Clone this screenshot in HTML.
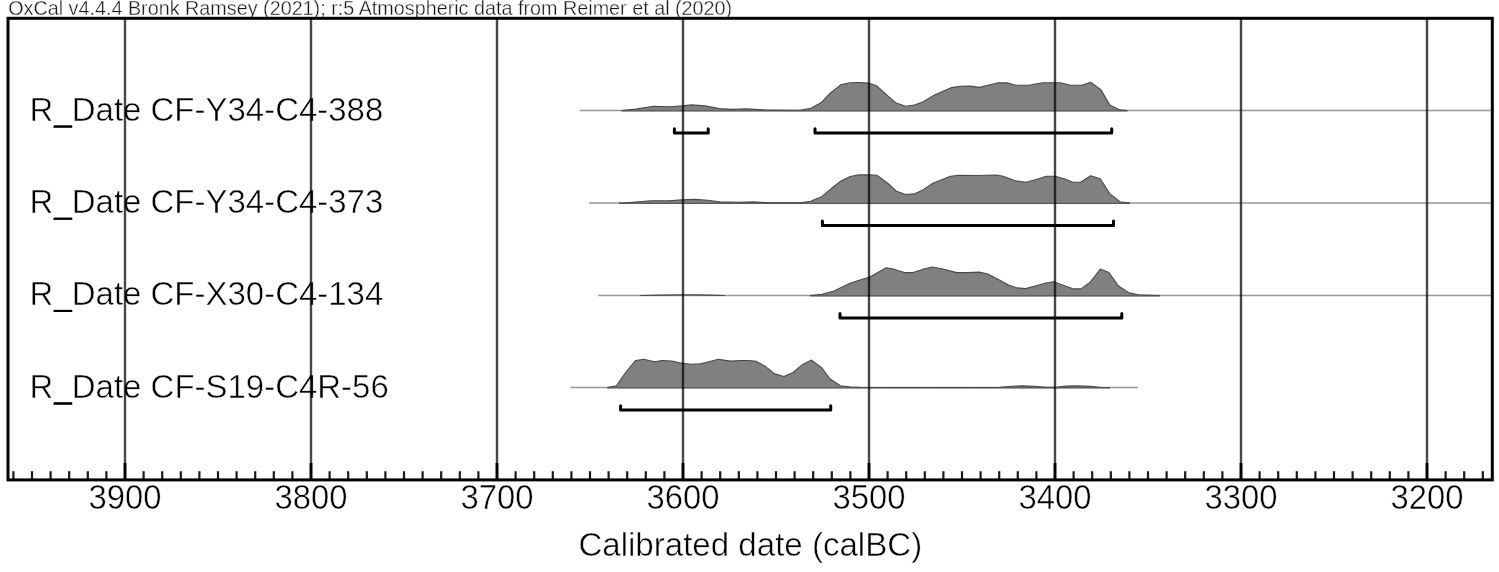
<!DOCTYPE html>
<html><head><meta charset="utf-8"><style>
html,body{margin:0;padding:0;background:#fff;}
body{width:1499px;height:572px;overflow:hidden;}
svg{display:block;will-change:transform;}
text{font-family:"Liberation Sans",sans-serif;fill:#000;stroke:#fff;stroke-width:0.5px;paint-order:normal;}
</style></head><body>
<svg width="1499" height="572" viewBox="0 0 1499 572">
<rect width="1499" height="572" fill="#fff"/>
<text x="8.2" y="15.2" font-size="20.3" style="stroke-width:0.35px;fill:#1a1a1a" textLength="724" lengthAdjust="spacingAndGlyphs">OxCal v4.4.4 Bronk Ramsey (2021); r:5 Atmospheric data from Reimer et al (2020)</text>
<text x="29.6" y="120.7" font-size="32.6" textLength="353.7" lengthAdjust="spacingAndGlyphs">R_Date CF-Y34-C4-388</text>
<rect x="54" y="125.3" width="18.2" height="2.1" fill="#000"/>
<text x="29.6" y="213" font-size="32.6" textLength="353.7" lengthAdjust="spacingAndGlyphs">R_Date CF-Y34-C4-373</text>
<rect x="54" y="217.6" width="18.2" height="2.1" fill="#000"/>
<text x="29.6" y="305.3" font-size="32.6" textLength="353.7" lengthAdjust="spacingAndGlyphs">R_Date CF-X30-C4-134</text>
<rect x="54" y="309.9" width="18.2" height="2.1" fill="#000"/>
<text x="29.6" y="397.6" font-size="32.6" textLength="359.2" lengthAdjust="spacingAndGlyphs">R_Date CF-S19-C4R-56</text>
<rect x="54" y="402.2" width="18.2" height="2.1" fill="#000"/>
<line x1="580" y1="110.5" x2="1493" y2="110.5" stroke="#999" stroke-width="1.4"/>
<path d="M621.6,110.5 L636,109.1 L653.6,106.2 L669.7,106.7 L682.5,105.9 L692,104.9 L704.9,105.9 L719.3,108.6 L732.1,109.4 L746.5,108.9 L764.1,109.9 L788.1,110.4 L800,110.2 L810.7,108.4 L821.3,102.6 L829.9,93.5 L840.6,84.9 L850.2,82.8 L858.7,82.6 L868.3,83 L876.8,85.8 L887.5,95.6 L896.1,103.1 L905.7,106.3 L914.2,105 L922.7,102 L933.4,95.6 L951.6,87.6 L960.1,86.2 L970.3,86.1 L979.2,87.4 L988,85.2 L998.2,82.7 L1007,82.9 L1015.9,85.2 L1028.6,85.2 L1042.5,82.7 L1053.9,82.7 L1060.3,82.7 L1070.4,85.2 L1081.8,85.2 L1090.7,82.3 L1100.8,89.6 L1109.7,104.9 L1119.9,109.9 L1127.5,110.5 L1127.5,111.0 L621.6,111.0 Z" fill="#808080" stroke="none"/>
<line x1="621.6" y1="110.8" x2="1127.5" y2="110.8" stroke="#585858" stroke-width="1.2"/>
<path d="M621.6,110.5 L636,109.1 L653.6,106.2 L669.7,106.7 L682.5,105.9 L692,104.9 L704.9,105.9 L719.3,108.6 L732.1,109.4 L746.5,108.9 L764.1,109.9 L788.1,110.4 L800,110.2 L810.7,108.4 L821.3,102.6 L829.9,93.5 L840.6,84.9 L850.2,82.8 L858.7,82.6 L868.3,83 L876.8,85.8 L887.5,95.6 L896.1,103.1 L905.7,106.3 L914.2,105 L922.7,102 L933.4,95.6 L951.6,87.6 L960.1,86.2 L970.3,86.1 L979.2,87.4 L988,85.2 L998.2,82.7 L1007,82.9 L1015.9,85.2 L1028.6,85.2 L1042.5,82.7 L1053.9,82.7 L1060.3,82.7 L1070.4,85.2 L1081.8,85.2 L1090.7,82.3 L1100.8,89.6 L1109.7,104.9 L1119.9,109.9 L1127.5,110.5" fill="none" stroke="#4a4a4a" stroke-width="1.1" stroke-linejoin="round"/>
<line x1="589" y1="203" x2="1493" y2="203" stroke="#999" stroke-width="1.4"/>
<path d="M619,203 L623,203 L650.6,200.7 L669,200.7 L681.3,199.9 L695.1,199.4 L707.4,200.2 L719.7,201.9 L738.1,202.2 L753.4,201.9 L768.8,202.7 L799.5,202.7 L810.7,201.3 L816,199 L821.3,196.9 L831,188.8 L840.6,181.3 L850.2,176.5 L858.7,174.9 L868.3,174.7 L876.8,175.3 L887.5,183 L896.1,191 L905.7,194.5 L914.2,193.9 L922.7,189.9 L933.4,183 L950.5,176.3 L958.9,175.2 L975.4,175.5 L996.9,175 L1003.2,176.2 L1015.9,180.9 L1026.1,182.2 L1038.7,178.8 L1046.3,176.2 L1055.2,176.2 L1064.1,178.8 L1073,182.2 L1080.6,182.2 L1090.7,175.8 L1100.2,178.8 L1109.7,193.6 L1119.9,201.8 L1130,203 L1130,203.5 L619,203.5 Z" fill="#808080" stroke="none"/>
<line x1="619" y1="203.3" x2="1130" y2="203.3" stroke="#585858" stroke-width="1.2"/>
<path d="M619,203 L623,203 L650.6,200.7 L669,200.7 L681.3,199.9 L695.1,199.4 L707.4,200.2 L719.7,201.9 L738.1,202.2 L753.4,201.9 L768.8,202.7 L799.5,202.7 L810.7,201.3 L816,199 L821.3,196.9 L831,188.8 L840.6,181.3 L850.2,176.5 L858.7,174.9 L868.3,174.7 L876.8,175.3 L887.5,183 L896.1,191 L905.7,194.5 L914.2,193.9 L922.7,189.9 L933.4,183 L950.5,176.3 L958.9,175.2 L975.4,175.5 L996.9,175 L1003.2,176.2 L1015.9,180.9 L1026.1,182.2 L1038.7,178.8 L1046.3,176.2 L1055.2,176.2 L1064.1,178.8 L1073,182.2 L1080.6,182.2 L1090.7,175.8 L1100.2,178.8 L1109.7,193.6 L1119.9,201.8 L1130,203" fill="none" stroke="#4a4a4a" stroke-width="1.1" stroke-linejoin="round"/>
<line x1="598" y1="295.5" x2="1493" y2="295.5" stroke="#999" stroke-width="1.4"/>
<path d="M640,295.5 L660,295.1 L685,294.8 L700,294.9 L718,295.4 L725,295.5 L725,296.0 L640,296.0 Z" fill="#808080"/>
<path d="M640,295.5 L660,295.1 L685,294.8 L700,294.9 L718,295.4 L725,295.5" fill="none" stroke="#4a4a4a" stroke-width="1.1" stroke-linejoin="round"/>
<path d="M810,295.5 L822,294.4 L834,291 L850,283.3 L860.7,279.8 L869.2,277.4 L877.8,272.6 L886.3,267.8 L894.8,269.4 L904.4,272.6 L913,272.6 L922.6,269.4 L932.2,267 L941.8,268.7 L956.7,272.6 L967.4,272.6 L979.1,272.1 L987.7,274 L999.4,280.1 L1008.5,284.9 L1017.1,287.9 L1025.6,288.6 L1035.2,286 L1045.9,283 L1053.4,281.7 L1064,285.4 L1073.6,288.9 L1081.1,288.9 L1090.7,281.7 L1100.3,269.1 L1108.9,272.6 L1118.5,286 L1129.1,292.9 L1138.8,294.7 L1160,295.5 L1160,296.0 L810,296.0 Z" fill="#808080" stroke="none"/>
<line x1="810" y1="295.8" x2="1160" y2="295.8" stroke="#585858" stroke-width="1.2"/>
<path d="M810,295.5 L822,294.4 L834,291 L850,283.3 L860.7,279.8 L869.2,277.4 L877.8,272.6 L886.3,267.8 L894.8,269.4 L904.4,272.6 L913,272.6 L922.6,269.4 L932.2,267 L941.8,268.7 L956.7,272.6 L967.4,272.6 L979.1,272.1 L987.7,274 L999.4,280.1 L1008.5,284.9 L1017.1,287.9 L1025.6,288.6 L1035.2,286 L1045.9,283 L1053.4,281.7 L1064,285.4 L1073.6,288.9 L1081.1,288.9 L1090.7,281.7 L1100.3,269.1 L1108.9,272.6 L1118.5,286 L1129.1,292.9 L1138.8,294.7 L1160,295.5" fill="none" stroke="#4a4a4a" stroke-width="1.1" stroke-linejoin="round"/>
<line x1="570.5" y1="387.5" x2="1137.8" y2="387.5" stroke="#999" stroke-width="1.4"/>
<path d="M607.2,387.5 L616.4,385.9 L625.6,372.5 L635.4,360.5 L643.9,359.2 L654.4,361.8 L662.3,360.5 L671.5,361 L682,363.4 L691.1,364.3 L700.3,363.9 L707.9,362 L718.4,359.2 L730.2,361.1 L742,360.5 L748.5,360.5 L756.4,361.4 L765.6,366.6 L774.8,373.9 L783.9,376.5 L793.1,372.5 L802.3,364.7 L811.5,360.1 L822,368 L829.8,378.8 L840.3,385.7 L850.8,387 L860,387.3 L960,387.5 L1000,387.3 L1012,386.3 L1022,385.9 L1035,386.2 L1046,387.2 L1056,387.2 L1066,386.1 L1077,385.9 L1090,386.4 L1100,387.3 L1110,387.5 L1110,388.0 L607.2,388.0 Z" fill="#808080" stroke="none"/>
<line x1="607.2" y1="387.8" x2="1110" y2="387.8" stroke="#585858" stroke-width="1.2"/>
<path d="M607.2,387.5 L616.4,385.9 L625.6,372.5 L635.4,360.5 L643.9,359.2 L654.4,361.8 L662.3,360.5 L671.5,361 L682,363.4 L691.1,364.3 L700.3,363.9 L707.9,362 L718.4,359.2 L730.2,361.1 L742,360.5 L748.5,360.5 L756.4,361.4 L765.6,366.6 L774.8,373.9 L783.9,376.5 L793.1,372.5 L802.3,364.7 L811.5,360.1 L822,368 L829.8,378.8 L840.3,385.7 L850.8,387 L860,387.3 L960,387.5 L1000,387.3 L1012,386.3 L1022,385.9 L1035,386.2 L1046,387.2 L1056,387.2 L1066,386.1 L1077,385.9 L1090,386.4 L1100,387.3 L1110,387.5" fill="none" stroke="#4a4a4a" stroke-width="1.1" stroke-linejoin="round"/>
<line x1="125" y1="18" x2="125" y2="479" stroke="#000" stroke-opacity="0.72" stroke-width="2.4"/>
<line x1="311" y1="18" x2="311" y2="479" stroke="#000" stroke-opacity="0.72" stroke-width="2.4"/>
<line x1="497" y1="18" x2="497" y2="479" stroke="#000" stroke-opacity="0.72" stroke-width="2.4"/>
<line x1="683" y1="18" x2="683" y2="479" stroke="#000" stroke-opacity="0.72" stroke-width="2.4"/>
<line x1="869" y1="18" x2="869" y2="479" stroke="#000" stroke-opacity="0.72" stroke-width="2.4"/>
<line x1="1055" y1="18" x2="1055" y2="479" stroke="#000" stroke-opacity="0.72" stroke-width="2.4"/>
<line x1="1241" y1="18" x2="1241" y2="479" stroke="#000" stroke-opacity="0.72" stroke-width="2.4"/>
<line x1="1427" y1="18" x2="1427" y2="479" stroke="#000" stroke-opacity="0.72" stroke-width="2.4"/>
<path d="M674.4,128.8 L674.4,133.1 L708.2,133.1 L708.2,128.8" fill="none" stroke="#000" stroke-width="3" stroke-linejoin="round" stroke-linecap="round"/>
<path d="M815,128.8 L815,133.1 L1111.7,133.1 L1111.7,128.8" fill="none" stroke="#000" stroke-width="3" stroke-linejoin="round" stroke-linecap="round"/>
<path d="M822.4,221.1 L822.4,225.4 L1113.5,225.4 L1113.5,221.1" fill="none" stroke="#000" stroke-width="3" stroke-linejoin="round" stroke-linecap="round"/>
<path d="M840,313.6 L840,317.9 L1121.8,317.9 L1121.8,313.6" fill="none" stroke="#000" stroke-width="3" stroke-linejoin="round" stroke-linecap="round"/>
<path d="M620.6,405.7 L620.6,410 L830.7,410 L830.7,405.7" fill="none" stroke="#000" stroke-width="3" stroke-linejoin="round" stroke-linecap="round"/>
<line x1="13.4" y1="471.2" x2="13.4" y2="479" stroke="#1a1a1a" stroke-width="2.2"/>
<line x1="32" y1="471.2" x2="32" y2="479" stroke="#1a1a1a" stroke-width="2.2"/>
<line x1="50.6" y1="471.2" x2="50.6" y2="479" stroke="#1a1a1a" stroke-width="2.2"/>
<line x1="69.2" y1="471.2" x2="69.2" y2="479" stroke="#1a1a1a" stroke-width="2.2"/>
<line x1="87.8" y1="471.2" x2="87.8" y2="479" stroke="#1a1a1a" stroke-width="2.2"/>
<line x1="106.4" y1="471.2" x2="106.4" y2="479" stroke="#1a1a1a" stroke-width="2.2"/>
<line x1="125" y1="463" x2="125" y2="479" stroke="#000" stroke-width="2.8"/>
<line x1="143.6" y1="471.2" x2="143.6" y2="479" stroke="#1a1a1a" stroke-width="2.2"/>
<line x1="162.2" y1="471.2" x2="162.2" y2="479" stroke="#1a1a1a" stroke-width="2.2"/>
<line x1="180.8" y1="471.2" x2="180.8" y2="479" stroke="#1a1a1a" stroke-width="2.2"/>
<line x1="199.4" y1="471.2" x2="199.4" y2="479" stroke="#1a1a1a" stroke-width="2.2"/>
<line x1="218" y1="471.2" x2="218" y2="479" stroke="#1a1a1a" stroke-width="2.2"/>
<line x1="236.6" y1="471.2" x2="236.6" y2="479" stroke="#1a1a1a" stroke-width="2.2"/>
<line x1="255.2" y1="471.2" x2="255.2" y2="479" stroke="#1a1a1a" stroke-width="2.2"/>
<line x1="273.8" y1="471.2" x2="273.8" y2="479" stroke="#1a1a1a" stroke-width="2.2"/>
<line x1="292.4" y1="471.2" x2="292.4" y2="479" stroke="#1a1a1a" stroke-width="2.2"/>
<line x1="311" y1="463" x2="311" y2="479" stroke="#000" stroke-width="2.8"/>
<line x1="329.6" y1="471.2" x2="329.6" y2="479" stroke="#1a1a1a" stroke-width="2.2"/>
<line x1="348.2" y1="471.2" x2="348.2" y2="479" stroke="#1a1a1a" stroke-width="2.2"/>
<line x1="366.8" y1="471.2" x2="366.8" y2="479" stroke="#1a1a1a" stroke-width="2.2"/>
<line x1="385.4" y1="471.2" x2="385.4" y2="479" stroke="#1a1a1a" stroke-width="2.2"/>
<line x1="404" y1="471.2" x2="404" y2="479" stroke="#1a1a1a" stroke-width="2.2"/>
<line x1="422.6" y1="471.2" x2="422.6" y2="479" stroke="#1a1a1a" stroke-width="2.2"/>
<line x1="441.2" y1="471.2" x2="441.2" y2="479" stroke="#1a1a1a" stroke-width="2.2"/>
<line x1="459.8" y1="471.2" x2="459.8" y2="479" stroke="#1a1a1a" stroke-width="2.2"/>
<line x1="478.4" y1="471.2" x2="478.4" y2="479" stroke="#1a1a1a" stroke-width="2.2"/>
<line x1="497" y1="463" x2="497" y2="479" stroke="#000" stroke-width="2.8"/>
<line x1="515.6" y1="471.2" x2="515.6" y2="479" stroke="#1a1a1a" stroke-width="2.2"/>
<line x1="534.2" y1="471.2" x2="534.2" y2="479" stroke="#1a1a1a" stroke-width="2.2"/>
<line x1="552.8" y1="471.2" x2="552.8" y2="479" stroke="#1a1a1a" stroke-width="2.2"/>
<line x1="571.4" y1="471.2" x2="571.4" y2="479" stroke="#1a1a1a" stroke-width="2.2"/>
<line x1="590" y1="471.2" x2="590" y2="479" stroke="#1a1a1a" stroke-width="2.2"/>
<line x1="608.6" y1="471.2" x2="608.6" y2="479" stroke="#1a1a1a" stroke-width="2.2"/>
<line x1="627.2" y1="471.2" x2="627.2" y2="479" stroke="#1a1a1a" stroke-width="2.2"/>
<line x1="645.8" y1="471.2" x2="645.8" y2="479" stroke="#1a1a1a" stroke-width="2.2"/>
<line x1="664.4" y1="471.2" x2="664.4" y2="479" stroke="#1a1a1a" stroke-width="2.2"/>
<line x1="683" y1="463" x2="683" y2="479" stroke="#000" stroke-width="2.8"/>
<line x1="701.6" y1="471.2" x2="701.6" y2="479" stroke="#1a1a1a" stroke-width="2.2"/>
<line x1="720.2" y1="471.2" x2="720.2" y2="479" stroke="#1a1a1a" stroke-width="2.2"/>
<line x1="738.8" y1="471.2" x2="738.8" y2="479" stroke="#1a1a1a" stroke-width="2.2"/>
<line x1="757.4" y1="471.2" x2="757.4" y2="479" stroke="#1a1a1a" stroke-width="2.2"/>
<line x1="776" y1="471.2" x2="776" y2="479" stroke="#1a1a1a" stroke-width="2.2"/>
<line x1="794.6" y1="471.2" x2="794.6" y2="479" stroke="#1a1a1a" stroke-width="2.2"/>
<line x1="813.2" y1="471.2" x2="813.2" y2="479" stroke="#1a1a1a" stroke-width="2.2"/>
<line x1="831.8" y1="471.2" x2="831.8" y2="479" stroke="#1a1a1a" stroke-width="2.2"/>
<line x1="850.4" y1="471.2" x2="850.4" y2="479" stroke="#1a1a1a" stroke-width="2.2"/>
<line x1="869" y1="463" x2="869" y2="479" stroke="#000" stroke-width="2.8"/>
<line x1="887.6" y1="471.2" x2="887.6" y2="479" stroke="#1a1a1a" stroke-width="2.2"/>
<line x1="906.2" y1="471.2" x2="906.2" y2="479" stroke="#1a1a1a" stroke-width="2.2"/>
<line x1="924.8" y1="471.2" x2="924.8" y2="479" stroke="#1a1a1a" stroke-width="2.2"/>
<line x1="943.4" y1="471.2" x2="943.4" y2="479" stroke="#1a1a1a" stroke-width="2.2"/>
<line x1="962" y1="471.2" x2="962" y2="479" stroke="#1a1a1a" stroke-width="2.2"/>
<line x1="980.6" y1="471.2" x2="980.6" y2="479" stroke="#1a1a1a" stroke-width="2.2"/>
<line x1="999.2" y1="471.2" x2="999.2" y2="479" stroke="#1a1a1a" stroke-width="2.2"/>
<line x1="1017.8" y1="471.2" x2="1017.8" y2="479" stroke="#1a1a1a" stroke-width="2.2"/>
<line x1="1036.4" y1="471.2" x2="1036.4" y2="479" stroke="#1a1a1a" stroke-width="2.2"/>
<line x1="1055" y1="463" x2="1055" y2="479" stroke="#000" stroke-width="2.8"/>
<line x1="1073.6" y1="471.2" x2="1073.6" y2="479" stroke="#1a1a1a" stroke-width="2.2"/>
<line x1="1092.2" y1="471.2" x2="1092.2" y2="479" stroke="#1a1a1a" stroke-width="2.2"/>
<line x1="1110.8" y1="471.2" x2="1110.8" y2="479" stroke="#1a1a1a" stroke-width="2.2"/>
<line x1="1129.4" y1="471.2" x2="1129.4" y2="479" stroke="#1a1a1a" stroke-width="2.2"/>
<line x1="1148" y1="471.2" x2="1148" y2="479" stroke="#1a1a1a" stroke-width="2.2"/>
<line x1="1166.6" y1="471.2" x2="1166.6" y2="479" stroke="#1a1a1a" stroke-width="2.2"/>
<line x1="1185.2" y1="471.2" x2="1185.2" y2="479" stroke="#1a1a1a" stroke-width="2.2"/>
<line x1="1203.8" y1="471.2" x2="1203.8" y2="479" stroke="#1a1a1a" stroke-width="2.2"/>
<line x1="1222.4" y1="471.2" x2="1222.4" y2="479" stroke="#1a1a1a" stroke-width="2.2"/>
<line x1="1241" y1="463" x2="1241" y2="479" stroke="#000" stroke-width="2.8"/>
<line x1="1259.6" y1="471.2" x2="1259.6" y2="479" stroke="#1a1a1a" stroke-width="2.2"/>
<line x1="1278.2" y1="471.2" x2="1278.2" y2="479" stroke="#1a1a1a" stroke-width="2.2"/>
<line x1="1296.8" y1="471.2" x2="1296.8" y2="479" stroke="#1a1a1a" stroke-width="2.2"/>
<line x1="1315.4" y1="471.2" x2="1315.4" y2="479" stroke="#1a1a1a" stroke-width="2.2"/>
<line x1="1334" y1="471.2" x2="1334" y2="479" stroke="#1a1a1a" stroke-width="2.2"/>
<line x1="1352.6" y1="471.2" x2="1352.6" y2="479" stroke="#1a1a1a" stroke-width="2.2"/>
<line x1="1371.2" y1="471.2" x2="1371.2" y2="479" stroke="#1a1a1a" stroke-width="2.2"/>
<line x1="1389.8" y1="471.2" x2="1389.8" y2="479" stroke="#1a1a1a" stroke-width="2.2"/>
<line x1="1408.4" y1="471.2" x2="1408.4" y2="479" stroke="#1a1a1a" stroke-width="2.2"/>
<line x1="1427" y1="463" x2="1427" y2="479" stroke="#000" stroke-width="2.8"/>
<line x1="1445.6" y1="471.2" x2="1445.6" y2="479" stroke="#1a1a1a" stroke-width="2.2"/>
<line x1="1464.2" y1="471.2" x2="1464.2" y2="479" stroke="#1a1a1a" stroke-width="2.2"/>
<line x1="1482.8" y1="471.2" x2="1482.8" y2="479" stroke="#1a1a1a" stroke-width="2.2"/>
<rect x="8" y="18.3" width="1484.3" height="461.6" fill="none" stroke="#000" stroke-width="3"/>
<text x="125" y="509.3" font-size="35" text-anchor="middle" textLength="73" lengthAdjust="spacingAndGlyphs">3900</text>
<text x="311" y="509.3" font-size="35" text-anchor="middle" textLength="73" lengthAdjust="spacingAndGlyphs">3800</text>
<text x="497" y="509.3" font-size="35" text-anchor="middle" textLength="73" lengthAdjust="spacingAndGlyphs">3700</text>
<text x="683" y="509.3" font-size="35" text-anchor="middle" textLength="73" lengthAdjust="spacingAndGlyphs">3600</text>
<text x="869" y="509.3" font-size="35" text-anchor="middle" textLength="73" lengthAdjust="spacingAndGlyphs">3500</text>
<text x="1055" y="509.3" font-size="35" text-anchor="middle" textLength="73" lengthAdjust="spacingAndGlyphs">3400</text>
<text x="1241" y="509.3" font-size="35" text-anchor="middle" textLength="73" lengthAdjust="spacingAndGlyphs">3300</text>
<text x="1427" y="509.3" font-size="35" text-anchor="middle" textLength="73" lengthAdjust="spacingAndGlyphs">3200</text>
<text x="750.3" y="556" font-size="32.3" text-anchor="middle" textLength="343.8" lengthAdjust="spacingAndGlyphs">Calibrated date (calBC)</text>
</svg>
</body></html>
